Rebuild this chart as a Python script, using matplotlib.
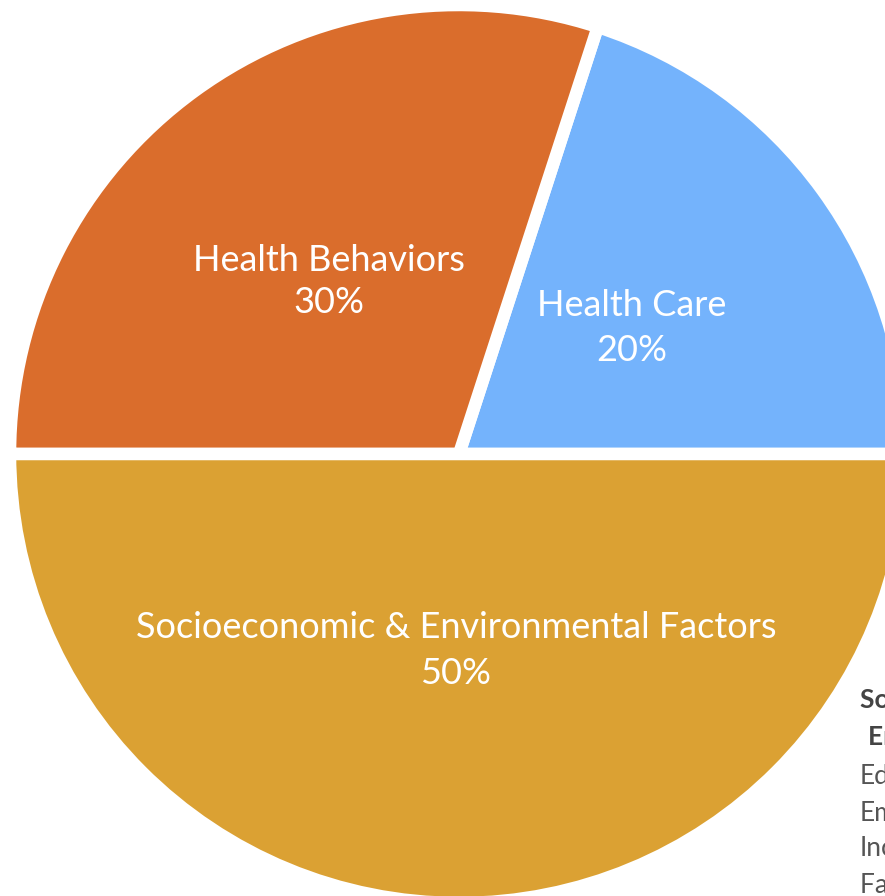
import matplotlib
matplotlib.use('Agg')
import matplotlib.pyplot as plt

# slices, counterclockwise from 3 o'clock
labels = ['Health Care', 'Health Behaviors', 'Socioeconomic & Environmental Factors']
shares = [20, 30, 50]
colors = ['#74B3FC', '#DA6D2C', '#DBA133']

# side panel (cut off at the right edge in the original)
panel_title = ['Socioeconomic &', 'Environmental Factors']
panel_items = ['Education', 'Employment', 'Income', 'Family & Social Support']

plt.rcParams['font.family'] = ['Lato', 'DejaVu Sans']

W, H = 885, 896
fig = plt.figure(figsize=(W / 100, H / 100), dpi=100)
ax = fig.add_axes([0, 0, 1, 1])

ax.pie(shares, colors=colors, startangle=0, counterclock=True,
       center=(459, H - 454), radius=449,
       wedgeprops=dict(edgecolor='white', linewidth=9))
ax.set_xlim(0, W)
ax.set_ylim(0, H)
ax.set_aspect('equal')
ax.axis('off')

label_pos = {'Health Care': (632, 305, 350),
             'Health Behaviors': (329, 260, 302),
             'Socioeconomic & Environmental Factors': (456, 628, 673)}
for name, pct in zip(labels, shares):
    x, y1, y2 = label_pos[name]
    ax.text(x, H - y1, name, color='white', fontsize=26, ha='center', va='center')
    ax.text(x, H - y2, f'{pct}%', color='white', fontsize=26, ha='center', va='center')

# side panel text
ax.text(860, H - 700, panel_title[0], color='#444444', fontsize=19,
        fontweight='bold', ha='left', va='center', clip_on=False)
ax.text(868, H - 737, panel_title[1], color='#444444', fontsize=19,
        fontweight='bold', ha='left', va='center', clip_on=False)
for i, item in enumerate(panel_items):
    ax.text(860, H - (777 + i * 36), item, color='#555555', fontsize=19,
            ha='left', va='center', clip_on=False)

fig.savefig('out.png', dpi=100)
